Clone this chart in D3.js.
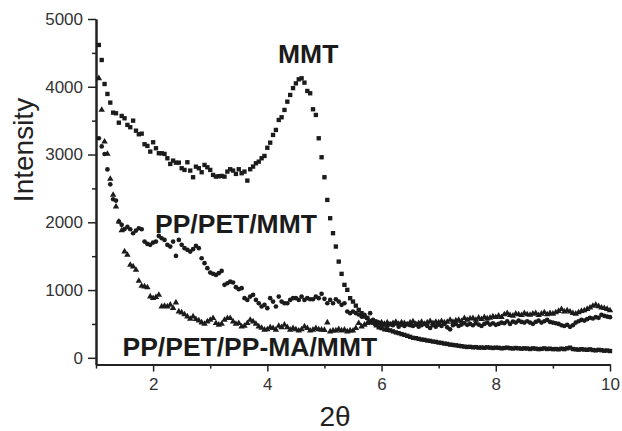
<!DOCTYPE html>
<html>
<head>
<meta charset="utf-8">
<script src="https://cdn.jsdelivr.net/npm/d3@7"></script>
<style>
  html, body { margin: 0; padding: 0; background: #fff; }
  svg { display: block; }
  text { font-family: "Liberation Sans", Arial, sans-serif; }
</style>
</head>
<body>
<svg id="chart" width="622" height="431"></svg>
<script>
// ---- data (2θ grid: 1.05 .. 10.00, step 0.05 of the diffractometer) ----
const thetaStart = 1.05, thetaStep = 0.05;

const mmt = [
  4617,4395,4041,3894,3766,3618,3609,3470,3569,3535,
  3437,3403,3500,3352,3299,3308,3152,3127,3043,3181,
  3093,3019,3019,3009,2945,2861,2910,2880,2880,2798,
  2773,2886,2763,2665,2821,2798,2739,2846,2812,2773,
  2699,2674,2680,2684,2674,2748,2783,2763,2714,2783,
  2724,2748,2615,2783,2822,2871,2895,2945,2979,3100,
  3175,3289,3363,3510,3550,3658,3780,3879,3980,4050,
  4110,4125,4061,3938,3904,3668,3584,3240,2960,2665,
  2330,2060,1839,1642,1420,1239,1077,1003,880,830,
  770,708,659,609,590,535,520,480,450,438,
  420,413,405,390,375,364,350,338,325,310,
  295,290,280,270,265,255,250,240,235,225,
  220,210,205,195,190,185,178,172,165,160,
  162,155,158,150,152,148,155,150,145,150,
  148,140,145,150,142,138,145,140,135,140,
  138,130,140,135,128,132,140,130,135,128,
  130,125,135,128,140,150,130,125,120,128,
  122,118,125,115,110,118,112,105,108,100
];

const ppPetMmt = [
  3240,3120,3008,2780,2560,2340,2320,2010,1962,1900,
  1932,1898,1839,1878,1912,1898,1715,1681,1667,1700,
  1715,1799,1765,1740,1667,1642,1715,1504,1740,1667,
  1618,1593,1568,1603,1652,1618,1470,1397,1323,1258,
  1239,1224,1249,1283,1077,1101,1125,1111,1043,1013,
  1028,880,855,904,929,855,806,757,782,733,
  880,830,757,904,830,806,806,855,880,880,
  855,904,855,880,865,865,904,880,944,870,
  806,855,806,865,830,782,806,683,659,683,
  659,640,609,634,585,659,560,540,520,500,
  490,470,500,480,510,460,490,470,500,480,
  470,490,460,480,500,470,440,480,460,490,
  470,500,450,420,480,500,470,490,510,487,
  500,480,510,490,470,500,520,490,510,487,
  500,520,510,540,500,535,520,550,530,520,
  540,520,501,530,550,520,540,560,530,520,
  510,500,480,470,487,457,480,520,540,560,
  550,570,590,580,600,590,634,620,609,600
];

const ppPetPpmaMmt = [
  4125,3658,3190,3008,2640,2404,2230,2010,1880,1568,
  1519,1372,1347,1298,1135,1062,1052,1040,904,880,
  895,929,757,767,757,782,733,816,683,668,
  640,609,575,609,571,550,521,501,535,560,
  585,511,487,500,560,585,585,535,501,511,
  462,470,511,560,535,501,462,440,413,420,
  450,438,413,470,450,487,450,413,438,420,
  400,420,462,438,400,413,438,420,413,410,
  521,388,403,403,423,403,413,388,403,400,
  438,511,462,487,511,530,520,500,510,520,
  500,520,490,510,530,500,520,510,490,520,
  535,500,510,530,501,520,540,510,530,520,
  540,520,530,560,530,550,560,540,585,560,
  580,585,560,590,570,600,580,590,610,600,
  620,600,640,659,630,620,650,640,630,660,
  640,634,650,659,630,650,670,640,659,650,
  670,690,718,683,700,680,660,650,670,690,
  700,720,740,767,782,760,740,733,720,700
];

const xMajorTicks = [2, 4, 6, 8, 10];
const xMinorTicks = [1, 3, 5, 7, 9];
const yMajorTicks = [0, 1000, 2000, 3000, 4000, 5000];
const yMinorTicks = [500, 1500, 2500, 3500, 4500];

const seriesNames = ["MMT", "PP/PET/MMT", "PP/PET/PP-MA/MMT"];

// ---- drawing ----
const svg = d3.select("#chart");
const ink = "#1b1b1b";

const x = d3.scaleLinear().domain([1, 10]).range([96, 610]);
const y = d3.scaleLinear().domain([-100, 5000]).range([364.6, 19]);

const toPoints = vals => vals.map((v, i) => ({ t: thetaStart + i * thetaStep, v }));

// axes
const axisColor = "#222";
function styleAxis(g) {
  g.select(".domain").attr("stroke", axisColor).attr("stroke-width", 2);
  g.selectAll(".tick line").attr("stroke", axisColor).attr("stroke-width", 1.5);
  g.selectAll(".tick text").attr("fill", "#333").style("font-size", "17px")
    .style("font-family", '"Liberation Sans", Arial, sans-serif');
}

const gx = svg.append("g").attr("transform", `translate(0,${y(-100)})`)
  .call(d3.axisBottom(x).tickValues(xMajorTicks).tickFormat(d3.format("d"))
    .tickSize(7).tickSizeOuter(0).tickPadding(6));
styleAxis(gx);
const gxm = svg.append("g").attr("transform", `translate(0,${y(-100)})`)
  .call(d3.axisBottom(x).tickValues(xMinorTicks).tickFormat("").tickSize(4).tickSizeOuter(0));
styleAxis(gxm);

const gy = svg.append("g").attr("transform", `translate(${x(1)},0)`)
  .call(d3.axisLeft(y).tickValues(yMajorTicks).tickFormat(d3.format("d"))
    .tickSize(8).tickSizeOuter(0).tickPadding(5));
styleAxis(gy);
const gym = svg.append("g").attr("transform", `translate(${x(1)},0)`)
  .call(d3.axisLeft(y).tickValues(yMinorTicks).tickFormat("").tickSize(4).tickSizeOuter(0));
styleAxis(gym);

// axis titles
svg.append("text")
  .attr("transform", "translate(33,150) rotate(-90)")
  .attr("text-anchor", "middle")
  .attr("fill", "#222")
  .style("font-size", "28px")
  .text("Intensity");

svg.append("text")
  .attr("x", 335).attr("y", 426)
  .attr("text-anchor", "middle")
  .attr("fill", "#222")
  .style("font-size", "28px")
  .text("2θ");

// series markers
function drawSeries(vals, symType, size) {
  const sym = d3.symbol().type(symType).size(size);
  svg.append("g").selectAll("path")
    .data(toPoints(vals))
    .join("path")
    .attr("transform", d => `translate(${x(d.t)},${y(d.v)})`)
    .attr("d", sym)
    .attr("fill", ink);
}
drawSeries(mmt, d3.symbolSquare, 19);
drawSeries(ppPetMmt, d3.symbolCircle, 17);
drawSeries(ppPetPpmaMmt, d3.symbolTriangle, 18);

// series labels
const labelPos = [[278, 63], [155, 233], [122.5, 356]];
seriesNames.forEach((name, i) => {
  svg.append("text")
    .attr("x", labelPos[i][0]).attr("y", labelPos[i][1])
    .attr("fill", ink)
    .style("font-size", "26.5px")
    .style("font-weight", "bold")
    .text(name);
});
</script>
</body>
</html>
